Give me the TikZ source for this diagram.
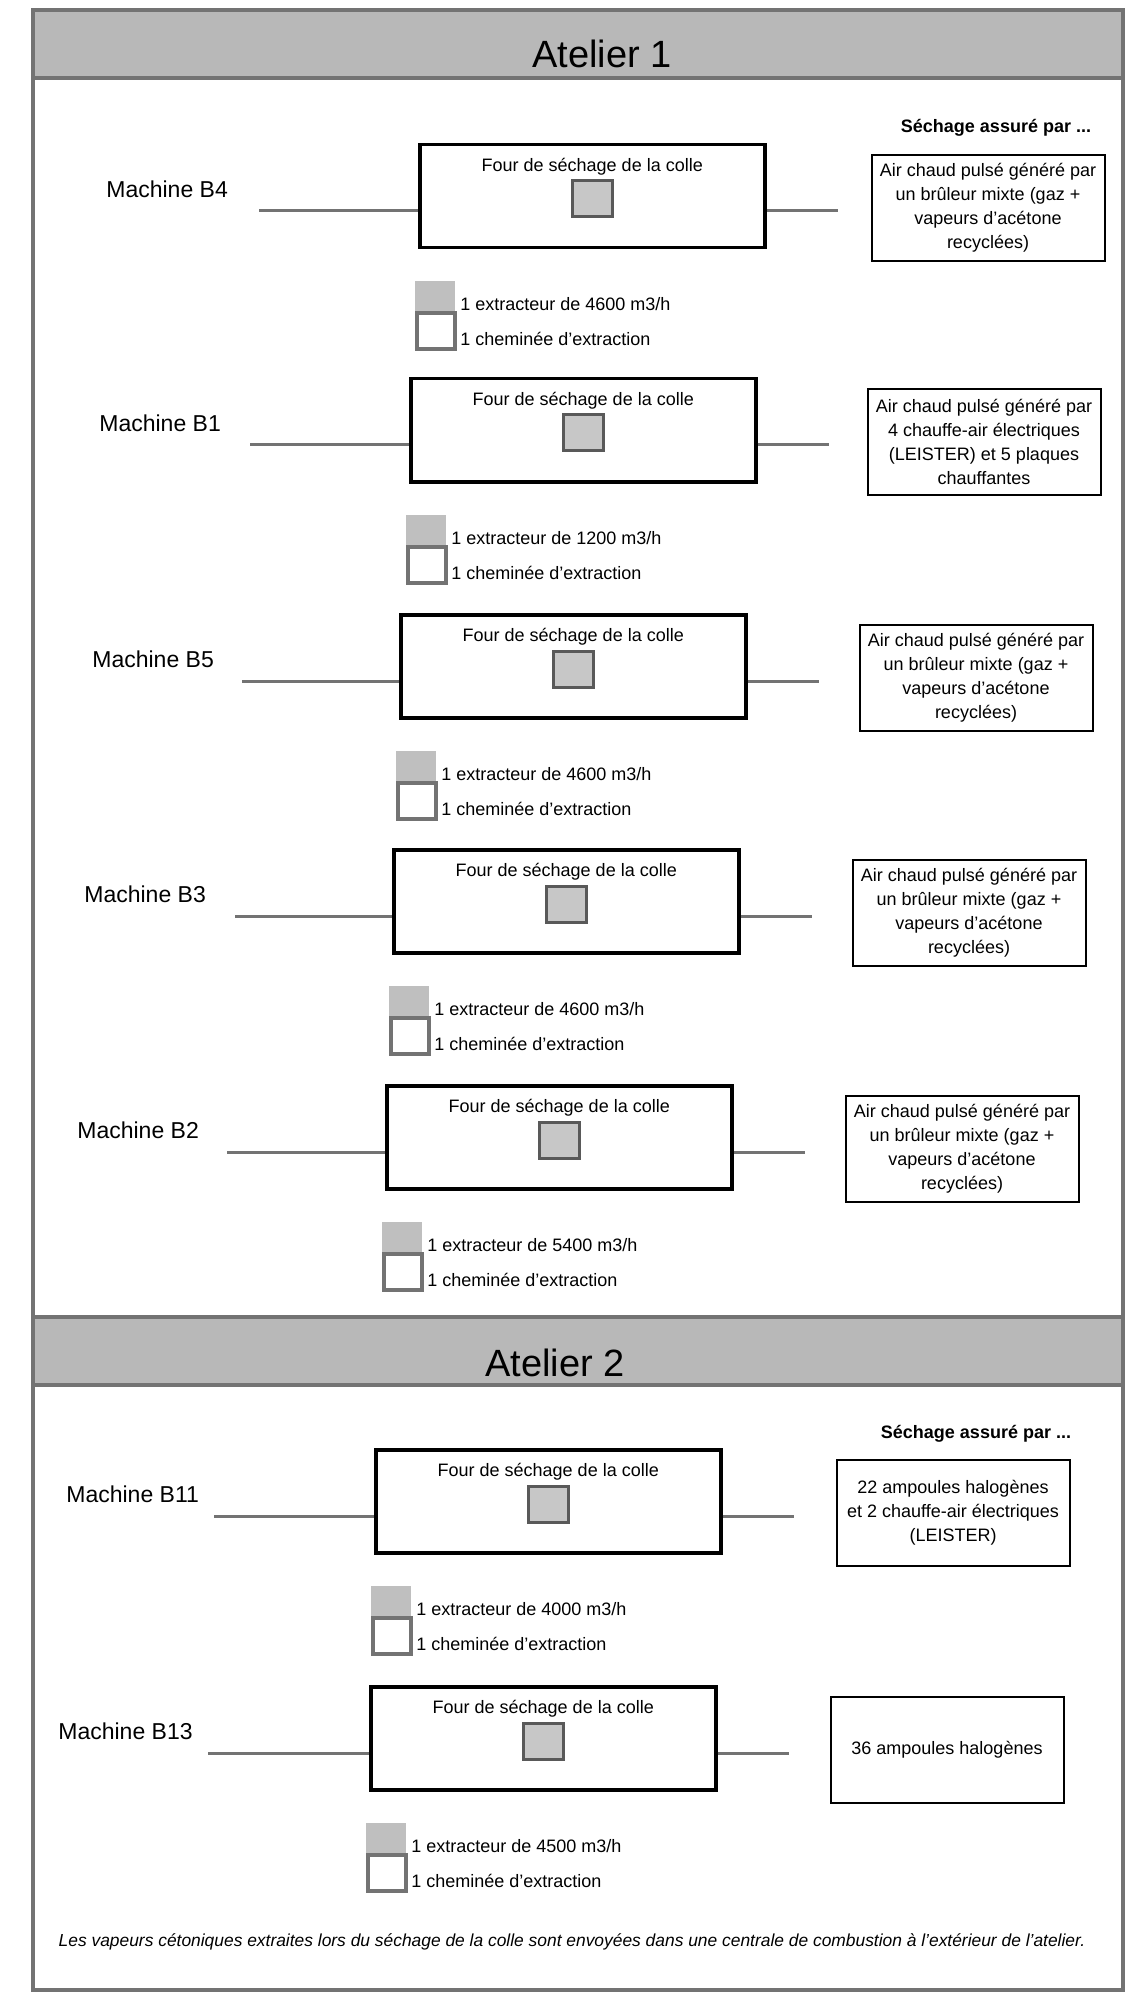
\documentclass[tikz,border=0pt]{standalone}
\usepackage{fontspec}
\setmainfont{Liberation Sans}
\usetikzlibrary{calc}
\tikzset{
  fourbox/.style={draw=black, line width=1.75pt, minimum width=172.5pt, minimum height=51.5pt, inner sep=0pt, anchor=north west},
  rbox/.style={draw=black, line width=1pt, minimum width=116.5pt, minimum height=53pt, align=center, font=\fontsize{9}{12}\selectfont, inner sep=2pt},
  conn/.style={draw=black!55, line width=1.5pt},
  heatsq/.style={draw=black!65, line width=1.5pt, fill=black!22, minimum width=20pt, minimum height=18pt, inner sep=0pt},
  extsq/.style={fill=black!25, minimum width=20pt, minimum height=15pt, inner sep=0pt, anchor=north west},
  chsq/.style={draw=black!55, line width=2pt, fill=white, minimum width=19pt, minimum height=18pt, inner sep=0pt, anchor=north west},
  small/.style={font=\fontsize{9}{11}\selectfont, inner sep=0pt},
  mlabel/.style={font=\fontsize{11.5}{14}\selectfont, anchor=west, inner sep=0pt},
  band/.style={fill=black!28},
  bandedge/.style={draw=black!55, line width=2pt},
  frame/.style={draw=black!55, line width=2pt},
  title/.style={font=\fontsize{19}{22}\selectfont, inner sep=0pt},
  head/.style={font=\fontsize{9}{11}\selectfont\bfseries, inner sep=0pt}
}
\newcommand\mblock[8]{%
  \node[fourbox] (four#1) at (#4,#5) {};
  \node[small] (fourtxt#1) at ($(four#1.north)+(0,24)$) {Four de séchage de la colle};
  \node[heatsq] (heat#1) at ($(four#1.north)+(0,56)$) {};
  \node[mlabel] (lab#1) at (#2,#5+46) {Machine #1};
  \coordinate (in#1) at (#3,#5+68);
  \draw[conn] (in#1) -- (in#1 -| four#1.west);
  \coordinate (out#1) at (#4+420,#5+68);
  \draw[conn] (out#1 -| four#1.east) -- (out#1);
  \node[rbox] (src#1) at (#6,#5+65) {#8};
  \node[extsq] (ext#1) at (#4-3,#5+138) {};
  \node[chsq] (chim#1) at (#4-3,#5+168) {};
  \node[small,anchor=west] (exttxt#1) at (#4+42,#5+161) {1 extracteur de #7 m3/h};
  \node[small,anchor=west] (chimtxt#1) at (#4+42,#5+196) {1 cheminée d'extraction};
}
\begin{document}
\begin{tikzpicture}[x=0.5pt,y=-0.5pt]
\useasboundingbox (0,0) rectangle (1144,2000);
\fill[white] (0,0) rectangle (1144,2000);
% bands
\fill[band] (33,10) rectangle (1123,78);
\draw[bandedge] (33,78) -- (1123,78);
\fill[band] (33,1317) rectangle (1123,1385);
\draw[bandedge] (33,1317) -- (1123,1317);
\draw[bandedge] (33,1385) -- (1123,1385);
\draw[frame] (33,10) rectangle (1123,1990);
\node[title] (at1) at (602,54) {Atelier 1};
\node[title] (at2) at (555,1363) {Atelier 2};
\node[head] (sech1) at (996,128) {Séchage assuré par ...};
\node[head] (sech2) at (976,1434) {Séchage assuré par ...};
\mblock{B4}{106}{259}{418}{143}{988}{4600}{Air chaud pulsé généré par\\un brûleur mixte (gaz +\\vapeurs d'acétone\\recyclées)}
\mblock{B1}{99}{250}{409}{377}{984}{1200}{Air chaud pulsé généré par\\4 chauffe-air électriques\\(LEISTER) et 5 plaques\\chauffantes}
\mblock{B5}{92}{242}{399}{613}{976}{4600}{Air chaud pulsé généré par\\un brûleur mixte (gaz +\\vapeurs d'acétone\\recyclées)}
\mblock{B3}{84}{235}{392}{848}{969}{4600}{Air chaud pulsé généré par\\un brûleur mixte (gaz +\\vapeurs d'acétone\\recyclées)}
\mblock{B2}{77}{227}{385}{1084}{962}{5400}{Air chaud pulsé généré par\\un brûleur mixte (gaz +\\vapeurs d'acétone\\recyclées)}
\mblock{B11}{66}{214}{374}{1448}{953}{4000}{22 ampoules halogènes\\et 2 chauffe-air électriques\\(LEISTER)}
\mblock{B13}{58}{208}{369}{1685}{947}{4500}{36 ampoules halogènes}
\node[font=\fontsize{8.7}{10}\selectfont\itshape, inner sep=0pt] (footer) at (572,1942) {Les vapeurs cétoniques extraites lors du séchage de la colle sont envoyées dans une centrale de combustion à l'extérieur de l'atelier.};
\end{tikzpicture}
\end{document}
